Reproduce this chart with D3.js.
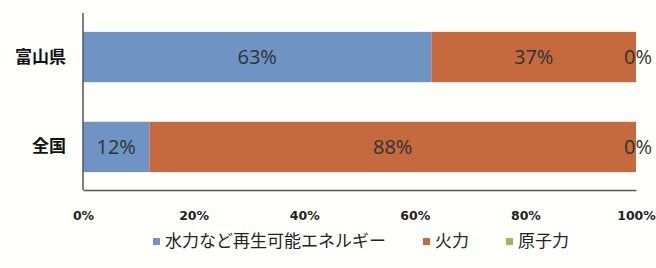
<!DOCTYPE html>
<html>
<head>
<meta charset="utf-8">
<script src="https://cdn.jsdelivr.net/npm/d3@7"></script>
<style>
  body { margin: 0; background: #fffffb; }
  svg { display: block; }
</style>
</head>
<body>
<div id="chart"></div>
<script>
// data
const regions = ['富山県', '全国'];
const seriesNames = ['水力など再生可能エネルギー', '火力', '原子力'];
const renewable = [63, 12];
const thermal = [37, 88];
const nuclear = [0, 0];
const xTicks = [0, 20, 40, 60, 80, 100];

const colors = ['#6f93c2', '#c46a3e', '#9bbb59'];

const width = 656, height = 268;
const x = d3.scaleLinear().domain([0, 100]).range([83, 636]);
const y = d3.scaleBand().domain(regions).range([13, 191]).paddingInner(0.44).paddingOuter(0.21);

const svg = d3.select('#chart').append('svg')
  .attr('width', width)
  .attr('height', height);

const rows = regions.map((r, i) => ({ region: r, values: [renewable[i], thermal[i], nuclear[i]] }));
const stack = d3.stack().keys([0, 1, 2]).value((d, k) => d.values[k]);
const layers = stack(rows);

svg.append('g')
  .selectAll('g')
  .data(layers)
  .join('g')
  .attr('fill', (d, i) => colors[i])
  .selectAll('rect')
  .data(d => d)
  .join('rect')
  .attr('x', d => x(d[0]))
  .attr('width', d => x(d[1]) - x(d[0]))
  .attr('y', d => y(d.data.region))
  .attr('height', y.bandwidth());

// value labels
const labels = svg.append('g')
  .attr('font-family', 'Open Sans, sans-serif')
  .attr('font-size', 20)
  .attr('fill', '#2f3331')
  .attr('text-anchor', 'middle');

layers.forEach((layer, i) => {
  labels.selectAll(null)
    .data(layer)
    .join('text')
    .attr('x', d => i === 2 ? x(d[1]) + 2 : (x(d[0]) + x(d[1])) / 2)
    .attr('y', d => y(d.data.region) + y.bandwidth() / 2)
    .attr('dy', '0.36em')
    .text(d => d.data.values[i] + '%');
});

// axes
const xAxis = svg.append('g')
  .attr('transform', 'translate(0,190)')
  .call(d3.axisBottom(x).tickValues(xTicks).tickSize(0).tickPadding(21).tickFormat(d => d + '%'));
xAxis.select('.domain').attr('stroke', '#555').attr('stroke-width', 1.5);
xAxis.selectAll('text')
  .attr('font-family', 'DejaVu Sans, sans-serif')
  .attr('font-weight', 'bold')
  .attr('font-size', 12.5)
  .attr('fill', '#222');

const yAxis = svg.append('g')
  .attr('transform', 'translate(83,0)')
  .call(d3.axisLeft(y).tickSize(0).tickPadding(17));
yAxis.select('.domain').attr('d', 'M0,13V190').attr('stroke', '#555').attr('stroke-width', 1.5);
yAxis.selectAll('text')
  .attr('font-family', 'Noto Sans CJK JP, sans-serif')
  .attr('font-weight', 'bold')
  .attr('font-size', 17)
  .attr('fill', '#111');

// legend
const legendX = [153, 423, 506];
const legend = svg.append('g')
  .selectAll('g')
  .data(seriesNames)
  .join('g')
  .attr('transform', (d, i) => `translate(${legendX[i]},241)`);
legend.append('rect')
  .attr('y', -3)
  .attr('width', 7)
  .attr('height', 7)
  .attr('fill', (d, i) => colors[i]);
legend.append('text')
  .attr('x', 12)
  .attr('dy', '0.36em')
  .attr('font-family', 'Noto Sans CJK JP, sans-serif')
  .attr('font-size', 17)
  .attr('fill', '#222')
  .text(d => d);
</script>
</body>
</html>
